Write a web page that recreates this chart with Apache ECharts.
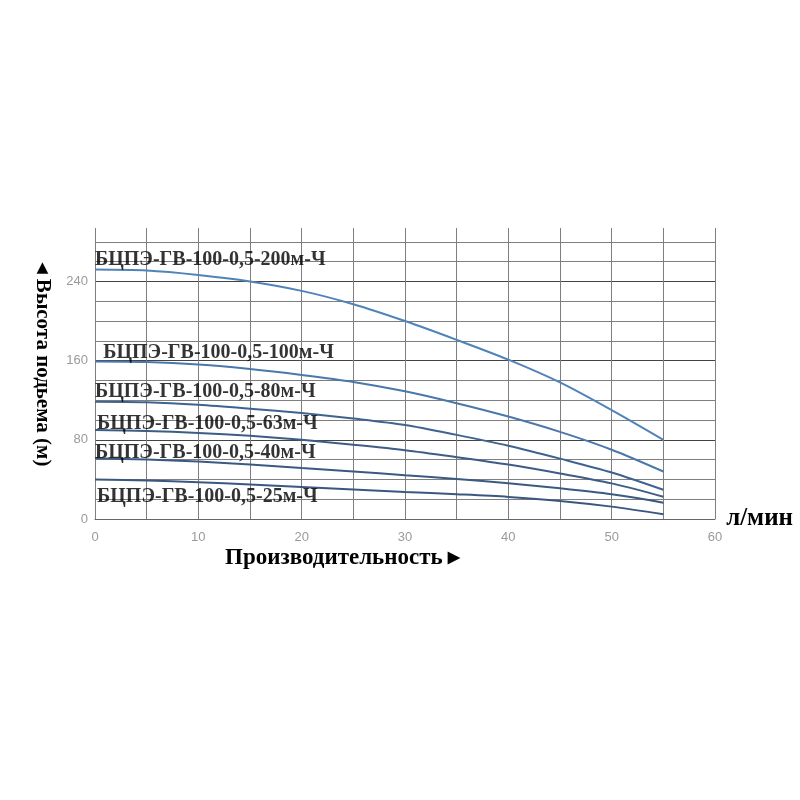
<!DOCTYPE html>
<html>
<head>
<meta charset="utf-8">
<script src="https://cdn.jsdelivr.net/npm/echarts@6/dist/echarts.min.js"></script>
<style>
  html, body { margin: 0; padding: 0; background: #fff; }
  #main { width: 800px; height: 800px; }
</style>
</head>
<body>
<div id="main"></div>
<script>
// flow, l/min
const flow = [0, 5, 10, 15, 20, 25, 30, 35, 40, 45, 50, 55];
// head, m
const head200 = [252, 251, 246.5, 240, 230.5, 217, 200, 181, 161, 138, 110, 80];
const head100 = [159, 158.5, 156, 151.5, 145.5, 138.5, 129, 117, 103.5, 88, 70, 48];
const head80 = [118.5, 118, 115.5, 111.5, 107, 101.5, 95, 85, 74, 61, 47, 29.5];
const head63 = [90, 89, 87, 84, 80, 75, 69.5, 62.5, 55, 46, 36, 22.5];
const head40 = [61.5, 60, 58, 55, 51.5, 48, 44.2, 40.5, 36, 31, 25, 16.5];
const head25 = [40, 39, 37.2, 34.8, 32.3, 29.8, 27.3, 25, 22.3, 18.3, 12.5, 4.7];

const models = [
  'БЦПЭ-ГВ-100-0,5-200м-Ч',
  'БЦПЭ-ГВ-100-0,5-100м-Ч',
  'БЦПЭ-ГВ-100-0,5-80м-Ч',
  'БЦПЭ-ГВ-100-0,5-63м-Ч',
  'БЦПЭ-ГВ-100-0,5-40м-Ч',
  'БЦПЭ-ГВ-100-0,5-25м-Ч'
];
const heads = [head200, head100, head80, head63, head40, head25];
const lineColors = ['#4f83ba', '#4a78aa', '#3f6390', '#3d5d86', '#3b5a82', '#3a587f'];

// where the model names sit (flow, head)
const labelFlow = [0, 0.8, 0, 0.2, 0, 0.2];
const labelHead = [262, 168, 128, 96, 66.5, 22];

const xTicks = [0, 10, 20, 30, 40, 50, 60];
const yTicks = [0, 80, 160, 240];

const serifBold = { fontFamily: 'Liberation Serif', fontWeight: 'bold', color: '#000' };

var gridColor = '#7e7e7e';
var yLineColors = [];
for (var v = 0; v <= 280; v += 20) {
  yLineColors.push(v % 80 === 0 ? '#444' : gridColor);
}
yLineColors.push('transparent');

var series = heads.map((h, i) => ({
  name: models[i],
  type: 'line',
  smooth: 0.3,
  symbol: 'none',
  lineStyle: { width: 2, color: lineColors[i] },
  data: flow.map((q, k) => [q, h[k]]),
  z: 3
}));

series.push({
  type: 'scatter',
  symbolSize: 0,
  silent: true,
  z: 5,
  data: models.map((m, i) => ({ name: m, value: [labelFlow[i], labelHead[i]] })),
  label: {
    show: true,
    position: 'right',
    distance: 0,
    formatter: p => p.name,
    fontSize: 20,
    ...serifBold
  }
});

var myChart = echarts.init(document.getElementById('main'));
myChart.setOption({
  animation: false,
  backgroundColor: '#fff',
  grid: { left: 95, right: 85, top: 228, bottom: 281 },
  xAxis: {
    type: 'value',
    min: 0,
    max: 60,
    interval: 5,
    name: 'л/мин',
    nameLocation: 'end',
    nameGap: 10,
    nameTextStyle: { fontSize: 25, verticalAlign: 'middle', padding: [0, 0, 12, 0], ...serifBold },
    axisLine: { show: true, lineStyle: { color: '#666', width: 1 } },
    axisTick: { show: false },
    axisLabel: {
      margin: 12,
      color: '#9a9a9a',
      fontSize: 13,
      fontFamily: 'Liberation Sans',
      formatter: val => (xTicks.indexOf(val) >= 0 ? String(val) : '')
    },
    splitLine: {
      show: true,
      showMinLine: true,
      showMaxLine: true,
      lineStyle: { color: gridColor, width: 1 }
    }
  },
  yAxis: {
    type: 'value',
    min: 0,
    max: 294,
    interval: 20,
    name: '◂ Высота подьема (м)',
    nameLocation: 'middle',
    nameRotate: -90,
    nameGap: 42,
    nameTextStyle: { fontSize: 21, padding: [0, 18, 0, 0], ...serifBold },
    axisLine: { show: false },
    axisTick: { show: false },
    axisLabel: {
      margin: 7,
      color: '#9a9a9a',
      fontSize: 13,
      fontFamily: 'Liberation Sans',
      formatter: val => (yTicks.indexOf(val) >= 0 ? String(val) : '')
    },
    splitLine: {
      show: true,
      showMinLine: true,
      showMaxLine: false,
      lineStyle: { color: yLineColors, width: 1 }
    }
  },
  graphic: [{
    type: 'text',
    left: 225,
    top: 547,
    style: { text: 'Производительность ▸', fontSize: 23, fontFamily: 'Liberation Serif', fontWeight: 'bold', fill: '#000' }
  }],
  series: series
});
</script>
</body>
</html>
